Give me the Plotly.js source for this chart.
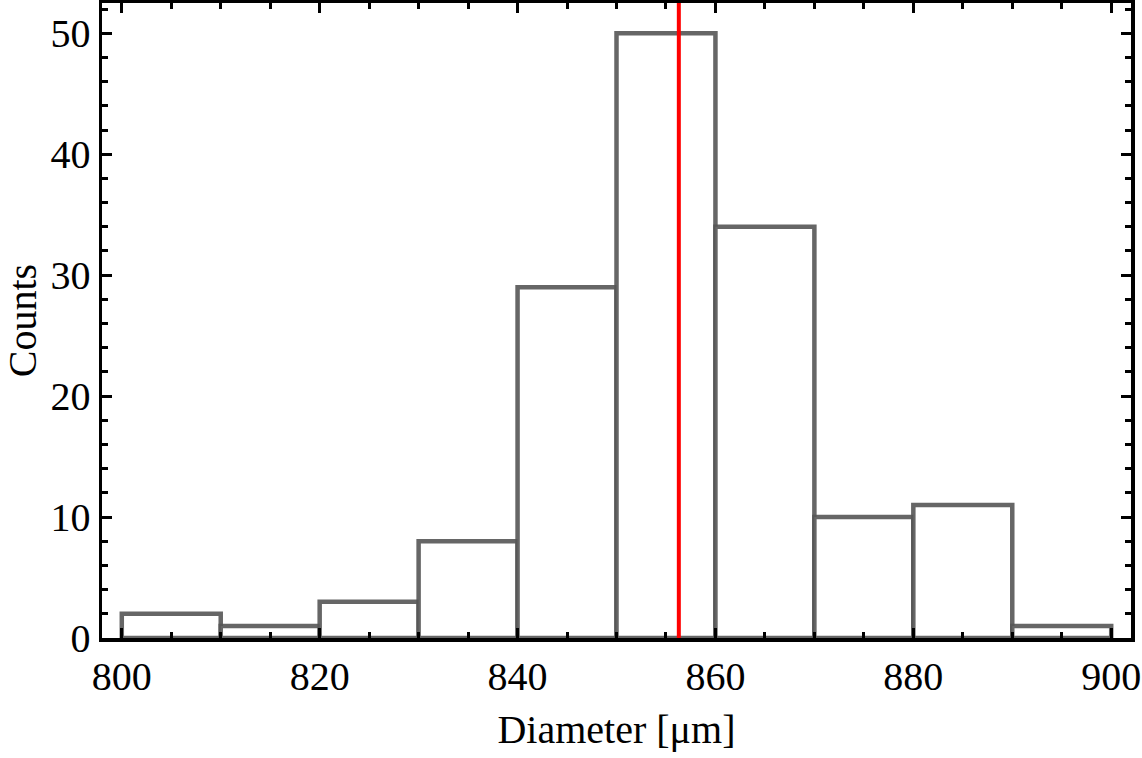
<!DOCTYPE html>
<html><head><meta charset="utf-8">
<script src="https://cdn.plot.ly/plotly-3.0.1.min.js"></script>
<style>html,body{margin:0;padding:0;background:#fff}</style>
</head><body>
<div id="chart" style="width:1142px;height:758px"></div>
<script>
const binStarts = [800, 810, 820, 830, 840, 850, 860, 870, 880, 890];
const binWidth = 10;
const counts = [2, 1, 3, 8, 29, 50, 34, 10, 11, 1];
const meanDiameter = 856.3;
const xTitle = "Diameter [μm]";
const yTitle = "Counts";

const centers = binStarts.map(s => s + binWidth / 2);
const font = {family: "Liberation Serif, Times New Roman, serif", color: "#000"};

const traces = [
  {
    type: "bar",
    x: centers,
    y: counts,
    width: binStarts.map(() => binWidth),
    marker: {color: "rgba(255,255,255,1)", line: {color: "rgba(85,85,85,0.9)", width: 4.5}},
    hoverinfo: "x+y",
    showlegend: false
  },
  {
    type: "scatter",
    mode: "lines",
    x: [meanDiameter, meanDiameter],
    y: [0, 60],
    line: {color: "#ff0000", width: 4},
    showlegend: false
  }
];

const layout = {
  width: 1142, height: 758,
  margin: {l: 102, r: 11, t: 3, b: 120},
  paper_bgcolor: "#fff", plot_bgcolor: "#fff",
  font: Object.assign({size: 40}, font),
  bargap: 0,
  xaxis: {
    range: [798, 902],
    tickvals: [800, 820, 840, 860, 880, 900],
    ticks: "inside", ticklen: 10, tickwidth: 3, tickcolor: "#000",
    minor: {dtick: 5, tick0: 800, ticks: "inside", ticklen: 6, tickwidth: 3, tickcolor: "#000"},
    showline: true, linewidth: 3.5, linecolor: "#000", mirror: "allticks",
    showgrid: false, zeroline: false,
    tickfont: Object.assign({size: 40}, font),
    title: {text: xTitle, font: Object.assign({size: 40}, font), standoff: 18}
  },
  yaxis: {
    range: [0, 52.5],
    tickvals: [0, 10, 20, 30, 40, 50],
    ticks: "inside", ticklen: 10, tickwidth: 3, tickcolor: "#000",
    minor: {dtick: 2, tick0: 0, ticks: "inside", ticklen: 6, tickwidth: 3, tickcolor: "#000"},
    showline: true, linewidth: 3.5, linecolor: "#000", mirror: "allticks",
    showgrid: false, zeroline: false,
    tickfont: Object.assign({size: 40}, font),
    title: {text: yTitle, font: Object.assign({size: 40}, font), standoff: 30}
  }
};

Plotly.newPlot("chart", traces, layout, {displayModeBar: false, staticPlot: true});
</script>
</body></html>
